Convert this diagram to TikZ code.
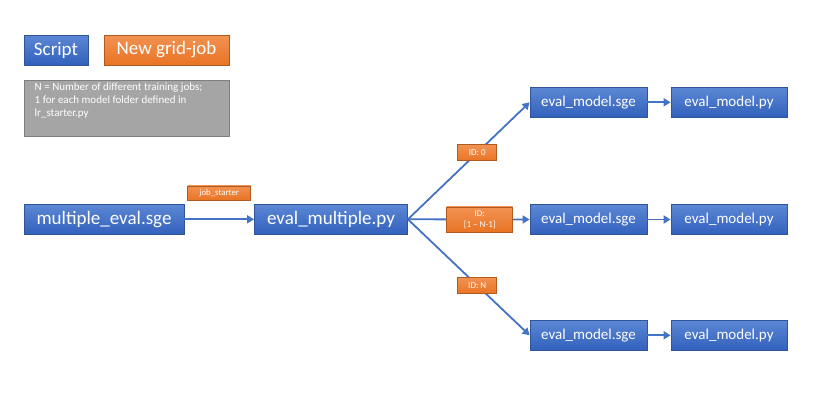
\documentclass[tikz,border=0pt]{standalone}
\usepackage{fontspec}
\setmainfont{Carlito}
\usetikzlibrary{arrows.meta}
\definecolor{bluetop}{RGB}{92,135,212}
\definecolor{bluebot}{RGB}{50,97,189}
\definecolor{blueedge}{RGB}{47,85,151}
\definecolor{arrowblue}{RGB}{68,114,196}
\definecolor{orangetop}{RGB}{242,146,82}
\definecolor{orangebot}{RGB}{233,116,36}
\definecolor{orangeedge}{RGB}{174,90,33}
\definecolor{notegray}{RGB}{165,165,165}
\definecolor{noteedge}{RGB}{127,127,127}

\begin{document}
\begin{tikzpicture}[x=1pt,y=-1pt,
  script/.style={draw=blueedge,line width=0.8pt,top color=bluetop,bottom color=bluebot,text=white,inner sep=0pt,minimum height=30pt},
  gridjob/.style={draw=orangeedge,line width=0.8pt,top color=orangetop,bottom color=orangebot,text=white,inner sep=0pt},
  flow/.style={draw=arrowblue,line width=1.8pt,-{Triangle[length=7pt,width=8pt]}}]
\useasboundingbox (0,0) rectangle (839,408);
% legend
\node[script,minimum width=64pt,font=\fontsize{19}{21}\selectfont] (legscript) at (56,50) {Script};
\node[gridjob,minimum width=125pt,minimum height=30pt,font=\fontsize{19}{21}\selectfont] (leggrid) at (166.5,50) {New grid-job};
\node[draw=noteedge,line width=0.8pt,fill=notegray,minimum width=205pt,minimum height=56pt,anchor=north west] (note) at (24,80) {};
\node[anchor=north west,text=white,align=left,inner sep=0pt,font=\fontsize{11}{12.8}\selectfont] (notetext) at (34.5,83) {N = Number of different training jobs;\\1 for each model folder defined in\\lr\_starter.py};
% main chain
\node[script,minimum width=160pt,font=\fontsize{19}{21}\selectfont] (multeval) at (104,219.3) {multiple\_eval.sge};
\node[script,minimum width=153pt,font=\fontsize{19}{21}\selectfont] (evalmult) at (331,219.3) {eval\_multiple.py};
\foreach \i/\y in {top/102.3,mid/219.5,bot/335.3}{
  \node[script,minimum width=117pt,font=\fontsize{15}{17}\selectfont] (sge\i) at (588.5,\y) {eval\_model.sge};
  \node[script,minimum width=116pt,font=\fontsize{15}{17}\selectfont] (py\i) at (729,\y) {eval\_model.py};
  \draw[flow] (sge\i) -- (py\i);
}
\draw[flow] (multeval) -- node[gridjob,minimum width=63pt,minimum height=14pt,font=\fontsize{8.8}{10}\selectfont,above=19pt] (lblstarter) {job\_starter} (evalmult);
\draw[flow] (evalmult.east) -- node[gridjob,pos=0.57,minimum width=39pt,minimum height=16pt,font=\fontsize{9}{11}\selectfont] (lbltop) {ID: 0} (sgetop.west);
\draw[flow] (evalmult.east) -- node[gridjob,pos=0.59,minimum width=66pt,minimum height=25pt,align=center,font=\fontsize{9}{11}\selectfont] (lblmid) {ID:\\{[1 – N-1]}} (sgemid.west);
\draw[flow] (evalmult.east) -- node[gridjob,pos=0.57,minimum width=39pt,minimum height=16pt,font=\fontsize{9}{11}\selectfont] (lblbot) {ID: N} (sgebot.west);
\end{tikzpicture}
\end{document}
